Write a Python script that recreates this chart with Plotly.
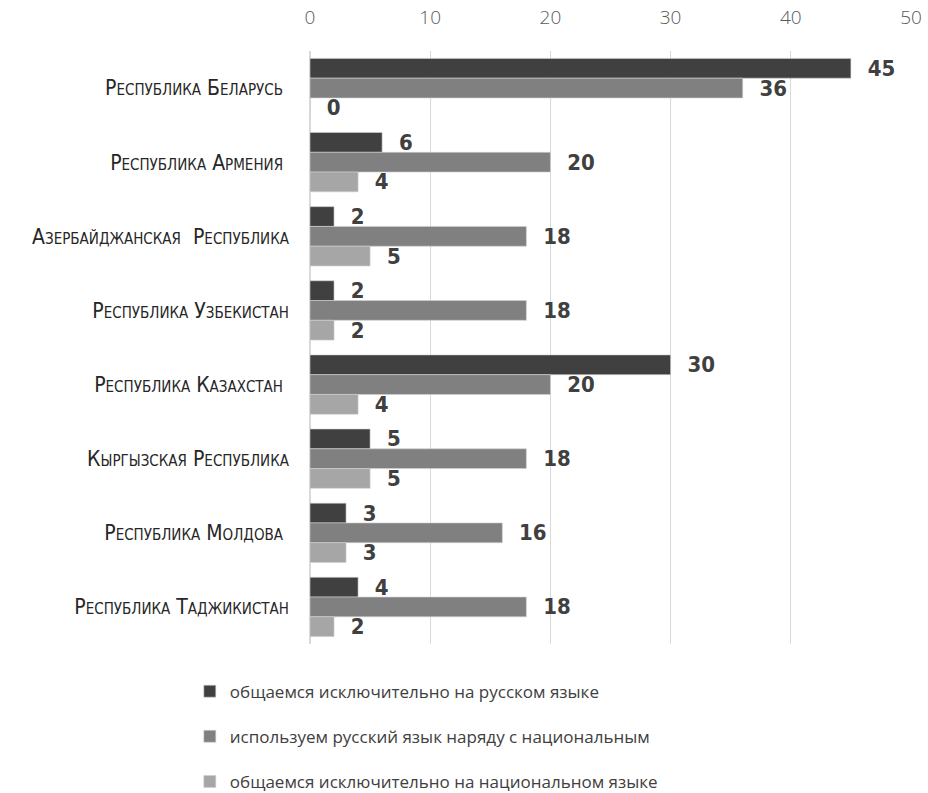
import plotly.graph_objects as go

countries = [
    "Республика Беларусь\u00a0",
    "Республика Армения\u00a0",
    "Азербайджанская  Республика",
    "Республика Узбекистан",
    "Республика Казахстан\u00a0",
    "Кыргызская Республика",
    "Республика Молдова\u00a0",
    "Республика Таджикистан",
]
only_russian = [45, 6, 2, 2, 30, 5, 3, 4]
russian_and_national = [36, 20, 18, 18, 20, 18, 16, 18]
only_national = [0, 4, 5, 2, 4, 5, 3, 2]

series_names = [
    "общаемся исключительно на русском языке",
    "используем русский язык наряду с национальным",
    "общаемся исключительно на национальном языке",
]
series_colors = ["#404040", "#808080", "#a6a6a6"]
x_ticks = [0, 10, 20, 30, 40, 50]

COND = "DejaVu Sans Condensed, Liberation Sans Narrow, Arial Narrow, sans-serif"

fig = go.Figure()
for name, vals, color in zip(
    series_names, [only_russian, russian_and_national, only_national], series_colors
):
    fig.add_trace(
        go.Bar(
            y=countries,
            x=vals,
            name=name,
            orientation="h",
            marker=dict(color=color, line=dict(color="#d0d0d0", width=0.6)),
            text=vals,
            texttemplate="\u00a0\u00a0%{x}",
            textposition="outside",
            constraintext="none",
            cliponaxis=False,
            textfont=dict(family=COND, size=22, color="#404040", weight="bold"),
            legendgroup=name,
        )
    )

fig.update_layout(
    width=928,
    height=793,
    barmode="group",
    bargap=0.2,
    bargroupgap=0,
    plot_bgcolor="white",
    paper_bgcolor="white",
    margin=dict(l=310, r=17, t=51, b=149, autoexpand=False),
    showlegend=True,
    legend=dict(
        orientation="v",
        x=-0.2,
        xanchor="left",
        y=-0.05,
        yanchor="top",
        traceorder="grouped",
        tracegroupgap=20,
        font=dict(family="Open Sans", size=17, color="#404040"),
        itemwidth=30,
    ),
    font=dict(family=COND, color="#404040"),
)

fig.update_xaxes(
    side="top",
    range=[0, 50],
    tickvals=x_ticks,
    showgrid=True,
    gridcolor="#d9d9d9",
    gridwidth=1,
    zeroline=True,
    zerolinecolor="#d9d9d9",
    showline=False,
    ticks="",
    tickfont=dict(family="Open Sans", size=19, color="#595959", weight=300),
    ticklabelstandoff=22,
)
fig.update_yaxes(
    autorange="reversed",
    showgrid=False,
    showline=False,
    ticks="",
    tickfont=dict(family=COND, size=21, color="#262626", variant="small-caps"),
    ticklabelstandoff=20,
)

fig.write_html("out.html")
